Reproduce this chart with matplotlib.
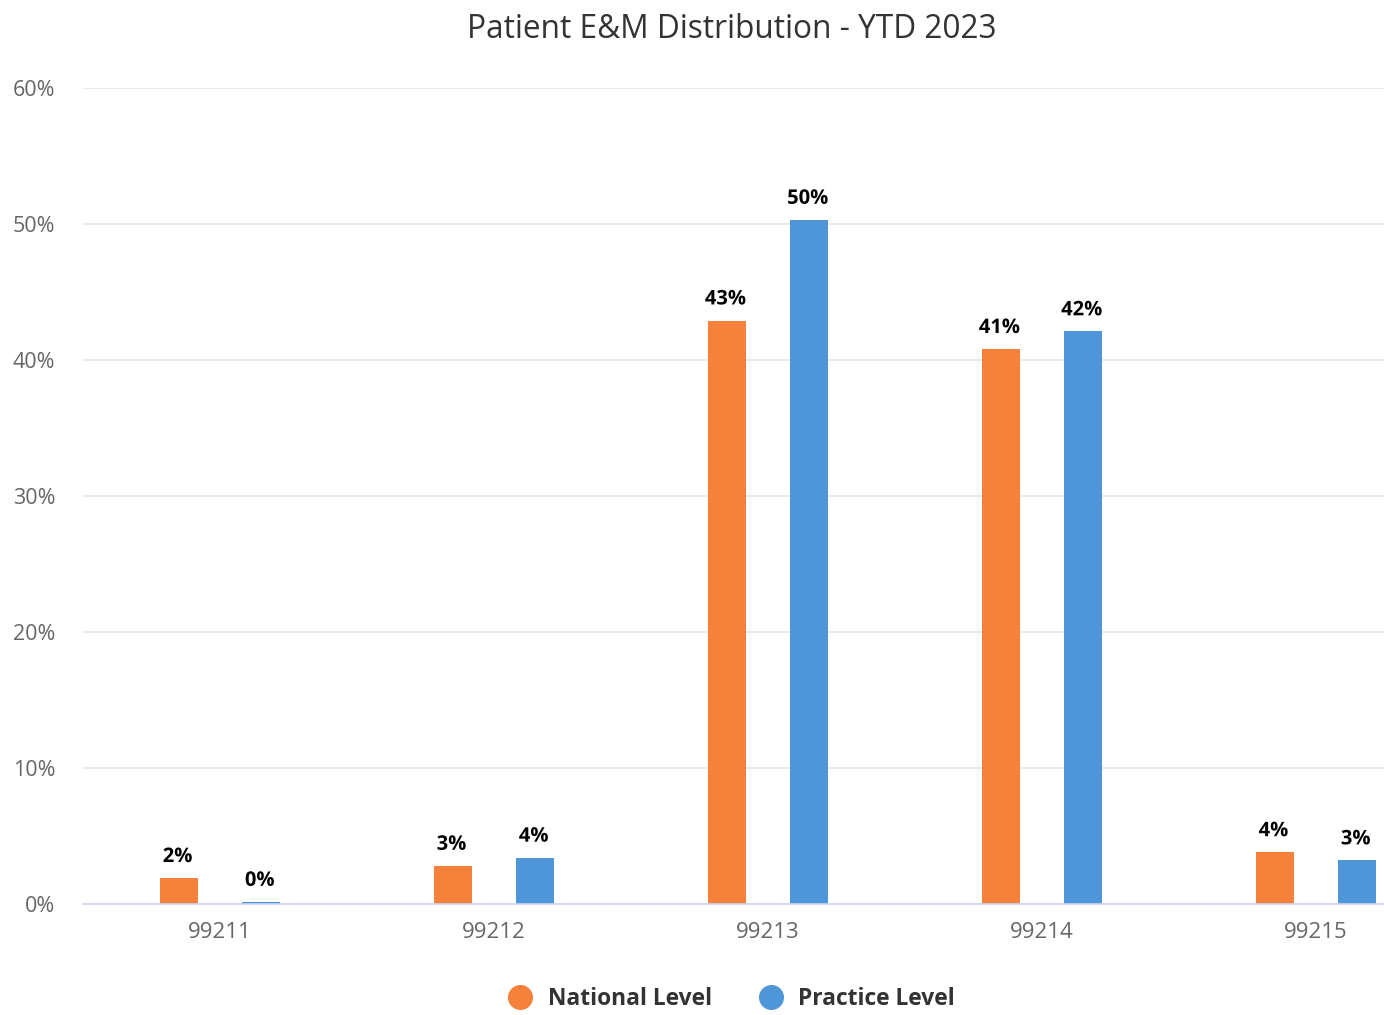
import matplotlib
matplotlib.use("Agg")
import matplotlib.pyplot as plt
import matplotlib.patheffects as pe
from matplotlib.lines import Line2D
import numpy as np

plt.rcParams['font.family'] = ['Open Sans', 'DejaVu Sans']

categories = ["99211", "99212", "99213", "99214", "99215"]
national = [1.9, 2.8, 42.9, 40.8, 3.8]
practice = [0.15, 3.4, 50.3, 42.1, 3.2]
national_labels = ["2%", "3%", "43%", "41%", "4%"]
practice_labels = ["0%", "4%", "50%", "42%", "3%"]
yticks = [0, 10, 20, 30, 40, 50, 60]
ytick_labels = ["0%", "10%", "20%", "30%", "40%", "50%", "60%"]

orange = "#F5813A"
blue = "#4F96D8"

W, H = 1384, 1015
fig = plt.figure(figsize=(W / 100, H / 100), dpi=100)
ax = fig.add_axes([83 / W, 111 / H, 1370 / W, 816 / H])

x = np.arange(len(categories))
bw = 0.139
off = 0.15
b1 = ax.bar(x - off, national, bw, color=orange, zorder=3)
b2 = ax.bar(x + off, practice, bw, color=blue, zorder=3)

outline = [pe.withStroke(linewidth=3, foreground="white")]
for bars, labels in ((b1, national_labels), (b2, practice_labels)):
    for rect, lab in zip(bars, labels):
        ax.annotate(lab, (rect.get_x() + rect.get_width() / 2, rect.get_height()),
                    xytext=(-1, 8), textcoords="offset points", ha="center", va="bottom",
                    fontsize=14.5, fontweight="bold", color="#000000", zorder=5,
                    path_effects=outline)

ax.set_xlim(-0.5, len(categories) - 0.5)
ax.set_ylim(0, 60)
ax.set_yticks(yticks)
ax.set_yticklabels(ytick_labels)
ax.set_xticks(x)
ax.set_xticklabels(categories)
ax.tick_params(axis="y", length=0, pad=20, labelsize=15.5, labelcolor="#666666")
ax.tick_params(axis="x", length=0, pad=13, labelsize=16, labelcolor="#666666")
ax.grid(axis="y", color="#e6e6e6", linewidth=1.2, zorder=0)
for s in ("top", "right", "left"):
    ax.spines[s].set_visible(False)
ax.spines["bottom"].set_color("#ccd6eb")
ax.spines["bottom"].set_linewidth(1.2)
ax.spines["bottom"].set_zorder(4)

fig.text(732 / W, 1 - 30 / H, "Patient E&M Distribution - YTD 2023", ha="center", va="center",
         fontsize=22.8, color="#333333")

handles = [Line2D([], [], marker="o", linestyle="", markersize=17, color=orange),
           Line2D([], [], marker="o", linestyle="", markersize=17, color=blue)]
fig.legend(handles, ["National Level", "Practice Level"], loc="center",
           bbox_to_anchor=(731 / W, 1 - 999 / H), ncol=2, frameon=False,
           prop={"size": 16.4, "weight": "bold"}, labelcolor="#333333",
           handletextpad=0.6, columnspacing=2.0, handlelength=1.2)

fig.savefig("out.png", dpi=100)
